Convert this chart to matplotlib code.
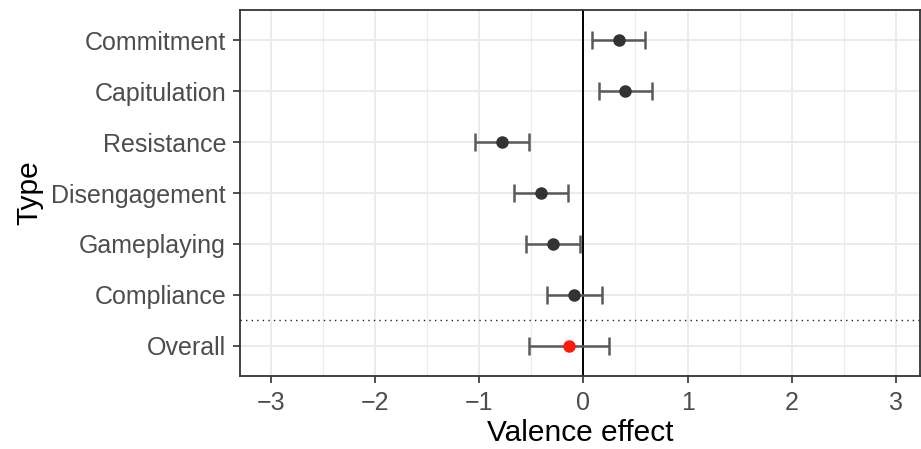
import matplotlib
matplotlib.use("Agg")
import matplotlib.pyplot as plt
import numpy as np

plt.rcParams['font.family'] = ['Liberation Sans', 'DejaVu Sans']

# data (top to bottom)
types = ["Commitment", "Capitulation", "Resistance", "Disengagement",
         "Gameplaying", "Compliance", "Overall"]
estimate = [0.34, 0.40, -0.78, -0.41, -0.29, -0.09, -0.14]
lower = [0.08, 0.15, -1.04, -0.67, -0.55, -0.35, -0.52]
upper = [0.59, 0.66, -0.52, -0.15, -0.03, 0.175, 0.25]
point_colors = ["#333333"] * 6 + ["#FF1A0A"]

n = len(types)
ypos = np.arange(n, 0, -1)  # Commitment on top

fig = plt.figure(figsize=(9.21, 4.49), dpi=100)
ax = fig.add_axes([240 / 921, 1 - 376 / 449, 680 / 921, 366 / 449])

# grid like theme_bw
ax.set_xticks(np.arange(-3, 4, 1))
ax.set_xticks(np.arange(-3.5, 4, 1), minor=True)
ax.grid(True, which="major", color="#EBEBEB", lw=1.4, zorder=0)
ax.grid(True, which="minor", axis="x", color="#EBEBEB", lw=0.8, zorder=0)
ax.set_axisbelow(True)

ax.axvline(0, color="black", lw=1.4, zorder=1)
ax.axhline(1.5, color="#222222", lw=1.0, ls=(0, (1, 3)), zorder=1)

for y, est, lo, hi, c in zip(ypos, estimate, lower, upper, point_colors):
    ax.errorbar(est, y, xerr=[[est - lo], [hi - est]], fmt="none",
                ecolor="#595959", elinewidth=1.8, capsize=6.8, capthick=1.8,
                zorder=2)
    ax.plot(est, y, "o", color=c, ms=8, zorder=3)

ax.set_xlim(-3.295, 3.23)
ax.set_ylim(0.4, n + 0.6)
ax.set_yticks(ypos)
ax.set_yticklabels(types)

ax.tick_params(axis="both", which="major", labelsize=18, labelcolor="#4D4D4D",
               color="#333333", length=5, width=1.2)
ax.tick_params(axis="y", which="major", pad=5)
ax.tick_params(axis="x", which="major", pad=6)
ax.tick_params(which="minor", length=0)
for s in ax.spines.values():
    s.set_color("#333333")
    s.set_linewidth(1.3)

ax.set_xlabel("Valence effect", fontsize=21.5, labelpad=3)
ax.set_ylabel("Type", fontsize=21.5, labelpad=6)

fig.savefig("out.png", dpi=100)
